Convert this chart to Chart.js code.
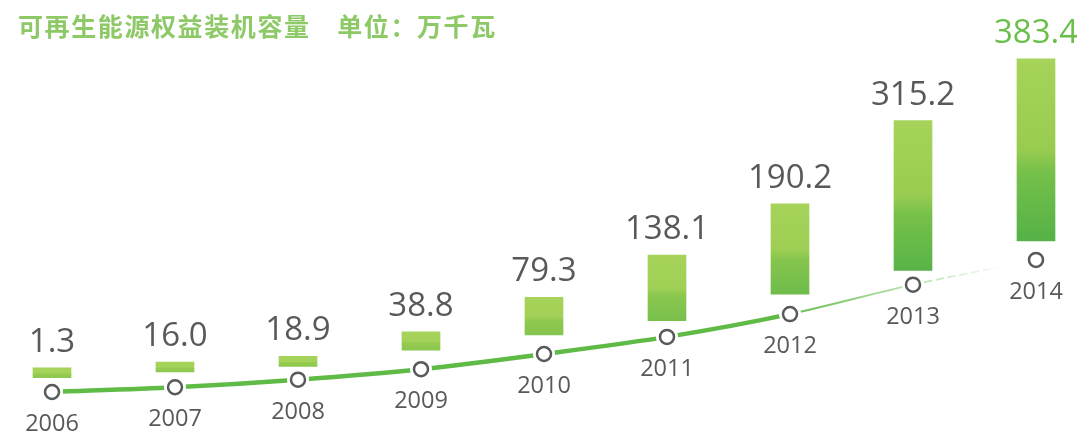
<!DOCTYPE html>
<html lang="zh-CN">
<head>
<meta charset="utf-8">
<title>可再生能源权益装机容量</title>
<script src="https://cdn.jsdelivr.net/npm/chart.js@4/dist/chart.umd.min.js"></script>
<style>
    html, body { margin: 0; padding: 0; background: #ffffff; }
    .wrap { position: relative; width: 1077px; height: 441px; overflow: hidden; }
    .chart-title {
        position: absolute; left: 18px; top: 13px; margin: 0;
        font: bold 25px "Noto Sans CJK SC", sans-serif; line-height: 1;
        letter-spacing: 1.6px; color: #8dc966; white-space: pre;
    }
    canvas { position: absolute; left: 0; top: 0; }
</style>
</head>
<body>
<div class="wrap">
    <canvas id="capacityChart" width="1077" height="441"></canvas>
    <h1 class="chart-title">可再生能源权益装机容量　单位：万千瓦</h1>
</div>
<script>
// 年份
const years = ['2006', '2007', '2008', '2009', '2010', '2011', '2012', '2013', '2014'];
// 权益装机容量（万千瓦）
const capacity = [1.3, 16.0, 18.9, 38.8, 79.3, 138.1, 190.2, 315.2, 383.4];
// 柱子悬浮起点（同一坐标单位）
const barBase = [110, 122, 134, 168, 200, 230, 286, 336, 398];
// 底部增长曲线
const trendLine = [80, 90, 106, 128, 160, 196, 244, 306, 358];

const GREY = '#58595b';
const GREEN = '#5fba46';
const MIN_BAR = 10;

// Labels: value above each bar, year under each ring
const labelPlugin = {
    id: 'capacityLabels',
    afterDatasetsDraw(chart) {
        const ctx = chart.ctx;
        const bars = chart.getDatasetMeta(0).data;
        const rings = chart.getDatasetMeta(3).data;
        ctx.save();
        ctx.textAlign = 'center';
        ctx.textBaseline = 'alphabetic';
        ctx.font = '33px "Open Sans"';
        bars.forEach((bar, i) => {
            ctx.fillStyle = i === bars.length - 1 ? '#6abf4b' : GREY;
            ctx.fillText(capacity[i].toFixed(1), bar.x, bar.y - 16);
        });
        ctx.font = '23.5px "Open Sans"';
        ctx.fillStyle = GREY;
        rings.forEach((pt, i) => {
            ctx.fillText(years[i], pt.x, pt.y + 39);
        });
        ctx.restore();
    }
};

// mix two rgb colours, t in 0..1
function mix(a, b, t) {
    const c = a.map((v, k) => Math.round(v + (b[k] - v) * t));
    return `rgb(${c[0]}, ${c[1]}, ${c[2]})`;
}

// light yellow-green on top, darker green near the foot of taller bars
function barFill(context) {
    const chart = context.chart;
    if (!chart.chartArea || context.type !== 'data') return '#9ccf52';
    const i = context.dataIndex;
    const y = chart.scales.y;
    const bottom = y.getPixelForValue(barBase[i]);
    const top = Math.min(y.getPixelForValue(barBase[i] + capacity[i]), bottom - MIN_BAR);
    const depth = Math.min(1, (bottom - top) / 160);
    const light = [166, 211, 90];
    const mid = [152, 204, 80];
    const dark = [84, 178, 71];
    const g = chart.ctx.createLinearGradient(0, top, 0, bottom);
    g.addColorStop(0, mix(light, light, 0));
    g.addColorStop(0.5, mix(light, mid, depth));
    g.addColorStop(0.62, mix(mid, [118, 192, 74], depth));
    g.addColorStop(1, mix(mid, dark, depth * 0.9 + 0.1));
    return g;
}

function lineStroke(context) {
    const { chart } = context;
    const area = chart.chartArea;
    if (!area) return GREEN;
    const g = chart.ctx.createLinearGradient(area.left, 0, area.right, 0);
    g.addColorStop(0, GREEN);
    g.addColorStop(0.74, GREEN);
    g.addColorStop(0.97, 'rgba(95, 186, 70, 0)');
    return g;
}

const ctx = document.getElementById('capacityChart');
new Chart(ctx, {
    type: 'bar',
    data: {
        labels: years,
        datasets: [
            {
                label: '权益装机容量',
                data: years.map((_, i) => [barBase[i], barBase[i] + capacity[i]]),
                backgroundColor: barFill,
                borderWidth: 0,
                borderSkipped: false,
                barThickness: 38,
                minBarLength: MIN_BAR,
                clip: false,
                order: 4
            },
            {
                type: 'line',
                label: 'trend',
                data: trendLine,
                borderColor: lineStroke,
                borderWidth: 4.5,
                borderCapStyle: 'round',
                tension: 0.3,
                pointRadius: 0,
                segment: {
                    borderWidth: c => c.p0DataIndex >= 6 ? 2 : undefined,
                    borderDash: c => c.p0DataIndex >= 7 ? [7, 5] : undefined
                },
                order: 3
            },
            {
                type: 'line',
                label: 'halo',
                data: trendLine,
                showLine: false,
                pointRadius: 11,
                pointBorderWidth: 0,
                pointBackgroundColor: '#ffffff',
                clip: false,
                order: 2
            },
            {
                type: 'line',
                label: 'rings',
                data: trendLine,
                showLine: false,
                pointRadius: 7,
                pointBorderWidth: 2.5,
                pointBorderColor: GREY,
                pointBackgroundColor: '#ffffff',
                clip: false,
                order: 1
            }
        ]
    },
    options: {
        responsive: false,
        animation: false,
        layout: { padding: { left: 52, right: 41, top: 0, bottom: 0 } },
        plugins: {
            legend: { display: false },
            tooltip: { enabled: false }
        },
        scales: {
            x: { type: 'category', offset: false, display: false },
            y: { min: 0, max: 882, display: false }
        }
    },
    plugins: [labelPlugin]
});
</script>
</body>
</html>
